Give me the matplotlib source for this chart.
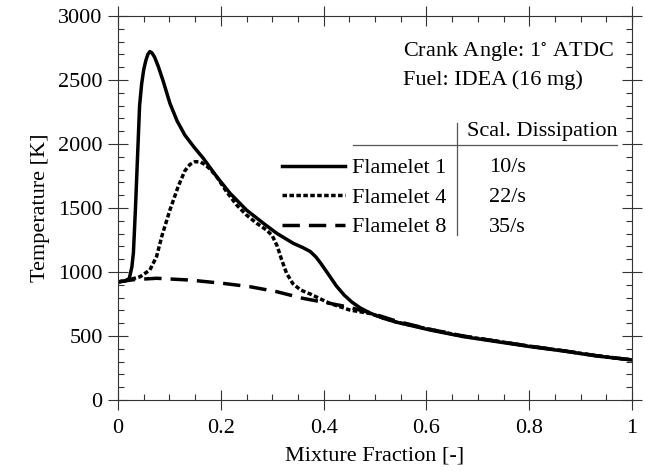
import matplotlib
matplotlib.use('Agg')
import matplotlib.pyplot as plt
from matplotlib.ticker import MultipleLocator

plt.rcParams['font.family'] = ['Liberation Serif', 'DejaVu Serif']
plt.rcParams['font.size'] = 16
plt.rcParams['mathtext.fontset'] = 'stix'

# temperature profiles vs mixture fraction
z_fl1 = [0.0, 0.015, 0.022, 0.027, 0.030, 0.034, 0.038, 0.042, 0.046, 0.050, 0.054,
         0.058, 0.062, 0.066, 0.071, 0.078, 0.088, 0.101, 0.115, 0.130, 0.148,
         0.166, 0.192, 0.218, 0.250, 0.283, 0.309, 0.341, 0.360, 0.374, 0.385,
         0.395, 0.408, 0.425, 0.440, 0.455, 0.471, 0.490, 0.515, 0.542,
         0.607, 0.672, 0.737, 0.802, 0.866, 0.931, 1.0]
T_fl1 = [922, 932, 950, 1040, 1150, 1500, 1900, 2300, 2470, 2580, 2650,
         2700, 2722, 2712, 2680, 2610, 2490, 2318, 2180, 2070, 1975,
         1888, 1745, 1615, 1484, 1380, 1302, 1224, 1190, 1160, 1118,
         1065, 990, 890, 820, 765, 720, 680, 640, 608,
         547, 495, 456, 417, 383, 344, 313]

z_fl4 = [0.0, 0.02, 0.043, 0.062, 0.075, 0.085, 0.101, 0.117, 0.130, 0.140,
         0.150, 0.160, 0.170, 0.180, 0.192, 0.211, 0.231, 0.250, 0.270, 0.289,
         0.300, 0.310, 0.318, 0.328, 0.340, 0.355, 0.374, 0.412, 0.451, 0.490,
         0.542, 0.607, 0.672, 0.737, 0.802, 0.866, 0.931, 1.0]
T_fl4 = [922, 938, 963, 1016, 1120, 1276, 1484, 1667, 1790, 1840,
         1862, 1860, 1838, 1800, 1745, 1628, 1523, 1445, 1380, 1328,
         1285, 1200, 1100, 990, 910, 860, 828, 755, 703, 676,
         608, 552, 498, 460, 420, 385, 346, 313]

z_fl8 = [0.0, 0.03, 0.075, 0.140, 0.205, 0.257, 0.309, 0.360, 0.412, 0.445,
         0.490, 0.542, 0.607, 0.672, 0.737, 0.802, 0.866, 0.931, 1.0]
T_fl8 = [922, 940, 951, 937, 911, 885, 846, 794, 755, 729,
         682, 616, 552, 500, 459, 420, 385, 346, 313]

labels = ['Flamelet 1', 'Flamelet 4', 'Flamelet 8']
dissipation = ['10/s', '22/s', '35/s']

fig = plt.figure(figsize=(6.6, 4.72), dpi=100)
ax = fig.add_axes([118/660, 1 - 400/472, 514/660, 384/472])

lw = 2.5
ax.plot(z_fl1, T_fl1, color='black', lw=lw, solid_joinstyle='round', label=labels[0])
ax.plot(z_fl4, T_fl4, color='black', lw=lw, dashes=(1.3, 0.7), label=labels[1])
ax.plot(z_fl8, T_fl8, color='black', lw=lw, dashes=(5.0, 2.6), label=labels[2])

ax.set_xlim(0, 1)
ax.set_ylim(0, 3000)
ax.xaxis.set_major_locator(MultipleLocator(0.2))
ax.xaxis.set_minor_locator(MultipleLocator(0.05))
ax.yaxis.set_major_locator(MultipleLocator(500))
ax.yaxis.set_minor_locator(MultipleLocator(100))
ax.set_xticks([0, 0.2, 0.4, 0.6, 0.8, 1.0])
ax.set_xticklabels(['0', '0.2', '0.4', '0.6', '0.8', '1'])
ax.tick_params(which='major', direction='inout', length=15, width=0.8,
               top=True, right=True, color='#333333')
ax.tick_params(which='minor', direction='in', length=4, width=0.8,
               top=True, right=True, color='#333333')
ax.tick_params(axis='x', which='major', pad=6)
ax.tick_params(axis='y', which='major', pad=3.5)
for s in ax.spines.values():
    s.set_linewidth(0.8)
    s.set_color('#333333')

ax.set_xlabel('Mixture Fraction [-]', labelpad=6)
ax.set_ylabel('Temperature [K]', labelpad=6)

ax.text(0.5545, 0.892, 'Crank Angle: 1$^{\\circ}$ ATDC', transform=ax.transAxes,
        ha='left', va='baseline')
ax.text(0.5545, 0.8216, 'Fuel: IDEA (16 mg)', transform=ax.transAxes,
        ha='left', va='baseline')

# legend with a small table of scalar dissipation rates
ax.legend(loc='center left', bbox_to_anchor=(0.319, 0.527), frameon=False,
          borderpad=0, borderaxespad=0, handlelength=2.85, handletextpad=0.3,
          labelspacing=0.4)
ax.text(0.825, 0.699, 'Scal. Dissipation', transform=ax.transAxes,
        ha='center', va='center')
row_y = [0.605, 0.527, 0.449]
for y, d in zip(row_y, dissipation):
    ax.text(0.757, y, d, transform=ax.transAxes, ha='center', va='center')
ax.plot([0.457, 0.971], [0.664, 0.664], transform=ax.transAxes,
        color='#555555', lw=0.9)
ax.plot([0.660, 0.660], [0.430, 0.721], transform=ax.transAxes,
        color='#555555', lw=0.9)

fig.savefig('out.png', dpi=100)
